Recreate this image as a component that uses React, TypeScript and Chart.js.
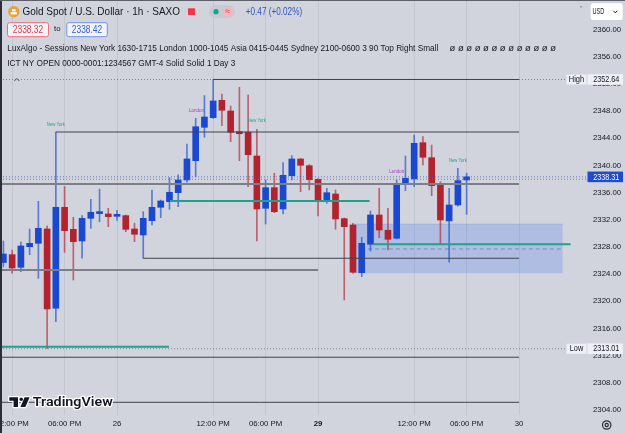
import React, { useEffect, useRef } from 'react';
import { Chart, registerables } from 'chart.js';

Chart.register(...registerables);

// ---- data (hourly candles, index = bar number) ----
const OPEN = [2325.7, 2326.86, 2325.0, 2328.03, 2328.53, 2330.64, 2318.97, 2333.83, 2330.59, 2328.87, 2332.21, 2332.9, 2332.85, 2332.5, 2332.6, 2330.64, 2329.75, 2331.86, 2333.83, 2334.66, 2335.98, 2337.85, 2340.69, 2345.6, 2347.02, 2349.58, 2348.0, 2344.96, 2344.87, 2341.38, 2333.68, 2336.72, 2333.58, 2338.48, 2340.94, 2339.95, 2337.95, 2334.66, 2335.79, 2332.16, 2331.23, 2324.21, 2328.39, 2332.7, 2330.45, 2329.27, 2337.26, 2338.0, 2343.34, 2341.13, 2337.36, 2331.82, 2334.17, 2337.85];
const HIGH = [2328.87, 2327.55, 2328.72, 2330.64, 2334.71, 2331.12, 2344.91, 2336.86, 2332.36, 2332.6, 2335.0, 2336.5, 2333.68, 2333.4, 2332.7, 2331.48, 2333.18, 2336.38, 2334.9, 2338.19, 2338.6, 2343.15, 2346.93, 2350.26, 2352.64, 2350.51, 2348.74, 2351.49, 2350.36, 2345.31, 2337.85, 2338.84, 2340.4, 2341.43, 2341.0, 2340.1, 2338.07, 2336.63, 2336.38, 2332.26, 2331.48, 2329.42, 2333.29, 2336.63, 2333.68, 2337.85, 2341.38, 2344.47, 2344.22, 2343.0, 2337.6, 2336.63, 2339.57, 2338.84];
const LOW = [2325.05, 2324.12, 2324.35, 2326.86, 2323.38, 2313.01, 2317.0, 2327.21, 2323.13, 2326.33, 2330.74, 2331.7, 2330.98, 2331.9, 2330.24, 2328.77, 2326.33, 2331.23, 2332.3, 2333.54, 2333.92, 2337.51, 2338.34, 2344.13, 2346.9, 2345.84, 2343.49, 2340.69, 2336.86, 2328.87, 2331.37, 2333.04, 2332.85, 2337.85, 2336.13, 2336.38, 2332.55, 2334.42, 2330.59, 2320.19, 2324.12, 2323.62, 2327.4, 2329.36, 2327.55, 2329.17, 2336.27, 2336.86, 2340.06, 2335.54, 2328.39, 2325.74, 2334.0, 2332.8];
const CLOSE = [2326.96, 2324.9, 2328.14, 2328.53, 2330.74, 2318.87, 2333.83, 2330.39, 2328.77, 2332.21, 2333.1, 2333.0, 2332.45, 2332.6, 2330.59, 2329.86, 2332.21, 2333.83, 2334.76, 2336.04, 2337.85, 2340.94, 2345.69, 2347.12, 2349.48, 2348.11, 2344.87, 2344.66, 2341.57, 2333.58, 2336.72, 2333.18, 2338.54, 2340.94, 2340.01, 2337.89, 2334.76, 2335.98, 2332.11, 2330.98, 2324.27, 2328.53, 2332.7, 2330.49, 2329.12, 2337.36, 2338.1, 2343.25, 2341.19, 2337.01, 2331.96, 2334.17, 2337.75, 2338.31];

const TIME_TICK_INDEX = [1, 7, 13, 24, 30, 36, 47, 53, 59];
const TIME_TICK_LABELS = ['12:00 PM', '06:00 PM', '26', '12:00 PM', '06:00 PM', '29', '12:00 PM', '06:00 PM', '30'];
const PRICE_TICKS = [2304, 2308, 2312, 2316, 2320, 2324, 2328, 2332, 2336, 2340, 2344, 2348, 2352, 2356, 2360];

const X_MIN = -0.39;
const X_MAX = 66.66;
const Y_MIN = 2303.26;
const Y_MAX = 2364.34;

// levels: [fromIndex, toIndex, price]
const DARK_LEVELS = [[24, 59, 2352.64], [6, 59, 2344.91], [16, 59, 2326.33], [X_MIN, 59, 2311.76], [X_MIN, 59, 2305.13]];
const GRAY_LEVELS = [[X_MIN, 59, 2337.26], [X_MIN, 36, 2324.6]];
const TEAL_LEVELS = [[19.06, 41.9, 2334.76], [42.3, 64.9, 2328.39], [X_MIN, 18.95, 2313.3]];
const ZONE = [39.9, 64, 2324.12, 2331.37];
const ZONE_MID = [41.7, 64, 2327.7];
const HIGH_PRICE = 2352.64;
const LOW_PRICE = 2313.01;
const LAST_PRICE = 2338.31;
const BID_PRICE = 2337.96;
const MARKER_END = 64.5;

const SESSION_NAMES = ['New York', 'London', 'New York', 'London', 'New York'];
const SESSION_INDEX = [6, 22.1, 29, 45, 52];
const SESSION_PRICE = [2346.05, 2348.11, 2346.53, 2339.07, 2340.75];

const BG = '#d1d4dc';
const TXT = '#131722';
const UP = '#1a49d0';
const DOWN = '#b3232f';
const UP_WICK = 'rgba(26,73,208,0.65)';
const DOWN_WICK = 'rgba(179,35,47,0.65)';
const TEAL = '#22a08e';
const PURPLE = '#a13fb8';
const NARROW = "'Liberation Sans Narrow', 'Liberation Sans', sans-serif";

function fitText(ctx: CanvasRenderingContext2D, text: string, x: number, y: number, font: string, color: string, width?: number, align: CanvasTextAlign = 'left') {
  ctx.save();
  ctx.font = font;
  ctx.fillStyle = color;
  ctx.textBaseline = 'middle';
  ctx.textAlign = 'left';
  const w = ctx.measureText(text).width;
  const sx = width ? width / w : 1;
  const realW = w * sx;
  let left = x;
  if (align === 'center') left = x - realW / 2;
  if (align === 'right') left = x - realW;
  ctx.translate(left, y);
  ctx.scale(sx, 1);
  ctx.fillText(text, 0, 0);
  ctx.restore();
}

function roundRect(ctx: CanvasRenderingContext2D, x: number, y: number, w: number, h: number, r: number) {
  ctx.beginPath();
  ctx.moveTo(x + r, y);
  ctx.lineTo(x + w - r, y);
  ctx.arcTo(x + w, y, x + w, y + r, r);
  ctx.lineTo(x + w, y + h - r);
  ctx.arcTo(x + w, y + h, x + w - r, y + h, r);
  ctx.lineTo(x + r, y + h);
  ctx.arcTo(x, y + h, x, y + h - r, r);
  ctx.lineTo(x, y + r);
  ctx.arcTo(x, y, x + r, y, r);
  ctx.closePath();
}

const sessionPlugin = {
  id: 'sessionLabels',
  afterDatasetsDraw(chart: any) {
    const ctx = chart.ctx as CanvasRenderingContext2D;
    const xs = chart.scales.x;
    const ys = chart.scales.y;
    SESSION_NAMES.forEach((name, k) => {
      const x = xs.getPixelForValue(SESSION_INDEX[k]);
      const y = ys.getPixelForValue(SESSION_PRICE[k]);
      const color = name === 'London' ? PURPLE : TEAL;
      fitText(ctx, name, x, y, '4.5px ' + NARROW, color, name === 'London' ? 15 : 18, 'center');
    });
  },
};

const overlayPlugin = {
  id: 'overlay',
  afterDraw(chart: any) {
    const ctx = chart.ctx as CanvasRenderingContext2D;
    const ys = chart.scales.y;
    ctx.save();
    // frame
    ctx.fillStyle = '#2a2e39';
    ctx.fillRect(0, 0, 2, 433);
    ctx.fillStyle = '#5d606b';
    ctx.fillRect(0, 0, 625, 1);

    // header: symbol icon
    ctx.fillStyle = '#e9a23b';
    ctx.beginPath();
    ctx.arc(13.8, 11.7, 5.7, 0, Math.PI * 2);
    ctx.fill();
    ctx.fillStyle = '#ffffff';
    ctx.fillRect(10.6, 12.2, 6.4, 2.2);
    ctx.fillRect(12, 9.2, 3.6, 2.2);
    fitText(ctx, 'Gold Spot / U.S. Dollar · 1h · SAXO', 22.5, 12, '11.5px ' + NARROW, TXT, 157.5);
    ctx.fillStyle = '#f23645';
    ctx.fillRect(188, 8.3, 7, 6.7);
    // pill
    ctx.fillStyle = '#c7cad3';
    roundRect(ctx, 209, 5, 26, 13.3, 6.6);
    ctx.fill();
    ctx.fillStyle = '#14a38c';
    ctx.beginPath();
    ctx.arc(216, 11.7, 2.6, 0, Math.PI * 2);
    ctx.fill();
    ctx.fillStyle = '#f2b8be';
    ctx.beginPath();
    ctx.arc(227.8, 11.7, 5.2, 0, Math.PI * 2);
    ctx.fill();
    fitText(ctx, '≈', 227.8, 11.5, '9px ' + NARROW, '#f23645', undefined, 'center');
    fitText(ctx, '+0.47 (+0.02%)', 245.7, 12, '10.5px ' + NARROW, '#2f56c6', 56.5);

    // bid / ask boxes
    ctx.fillStyle = '#f3f4f8';
    roundRect(ctx, 7.5, 22.7, 41, 14, 2);
    ctx.fill();
    ctx.strokeStyle = '#ef6b76';
    ctx.lineWidth = 1;
    ctx.stroke();
    fitText(ctx, '2338.32', 28, 30, '10px ' + NARROW, '#e23a49', 30.5, 'center');
    fitText(ctx, 'to', 57.3, 29.5, '7px ' + NARROW, TXT, 6.5, 'center');
    ctx.fillStyle = '#f3f4f8';
    roundRect(ctx, 66.8, 22.7, 40.5, 14, 2);
    ctx.fill();
    ctx.strokeStyle = '#6f8ff0';
    ctx.stroke();
    fitText(ctx, '2338.42', 87, 30, '10px ' + NARROW, '#2f5ee0', 30.5, 'center');

    // indicator lines
    fitText(ctx, 'LuxAlgo - Sessions New York 1630-1715 London 1000-1045 Asia 0415-0445 Sydney 2100-0600 3 90 Top Right Small', 7.3, 48, '9.5px ' + NARROW, TXT, 431);
    fitText(ctx, 'ø ø ø ø ø ø ø ø ø ø ø ø ø', 449.5, 48, '9.5px ' + NARROW, TXT, 106.5);
    fitText(ctx, 'ICT NY OPEN 0000-0001:1234567 GMT-4 Solid Solid 1 Day 3', 7.3, 63.5, '9.5px ' + NARROW, TXT, 228);

    // collapse chevron
    ctx.strokeStyle = '#50535e';
    ctx.lineWidth = 1;
    ctx.beginPath();
    ctx.moveTo(14.3, 81);
    ctx.lineTo(16.8, 78.5);
    ctx.lineTo(19.3, 81);
    ctx.stroke();

    // currency box
    ctx.fillStyle = '#ffffff';
    roundRect(ctx, 590.7, 3.3, 32, 16.7, 2);
    ctx.fill();
    fitText(ctx, 'USD', 592.5, 12, '8.5px ' + NARROW, TXT, 11.7);
    ctx.strokeStyle = TXT;
    ctx.beginPath();
    ctx.moveTo(613.3, 10.8);
    ctx.lineTo(615.3, 12.8);
    ctx.lineTo(617.3, 10.8);
    ctx.stroke();
    ctx.fillStyle = '#6a6d78';
    ctx.fillRect(580.5, 6, 1, 1.5);

    // High / Low / Last price labels
    const drawTag = (price: number, name: string | null, fill: string, color: string) => {
      const y = ys.getPixelForValue(price);
      if (name) {
        ctx.fillStyle = '#eef0f6';
        ctx.fillRect(566.5, y - 5, 20, 10);
        fitText(ctx, name, 576.5, y + 0.3, '8.5px ' + NARROW, TXT, name === 'High' ? 15.5 : 13.5, 'center');
      }
      ctx.fillStyle = fill;
      ctx.fillRect(587.5, y - 5.3, 35.5, 10.6);
      fitText(ctx, price.toFixed(2), 593.3, y + 0.3, '8.5px ' + NARROW, color, 26);
    };
    drawTag(HIGH_PRICE, 'High', '#eef0f6', TXT);
    drawTag(LOW_PRICE, 'Low', '#eef0f6', TXT);
    drawTag(LAST_PRICE, null, '#1f4bd0', '#ffffff');

    // gear
    ctx.strokeStyle = '#2a2e39';
    ctx.lineWidth = 1.2;
    ctx.beginPath();
    ctx.arc(606.7, 425, 4.2, 0, Math.PI * 2);
    ctx.stroke();
    ctx.beginPath();
    ctx.arc(606.7, 425, 1.6, 0, Math.PI * 2);
    ctx.stroke();

    // TradingView logo
    const logo = () => {
      ctx.beginPath();
      ctx.rect(9.3, 397.3, 8.7, 3.4);
      ctx.rect(13.6, 397.3, 4.4, 9.7);
      ctx.moveTo(22.9, 399.2);
      ctx.arc(21.2, 399.2, 1.8, 0, Math.PI * 2);
      ctx.moveTo(24.6, 397.3);
      ctx.lineTo(29.6, 397.3);
      ctx.lineTo(25.4, 407);
      ctx.lineTo(20.4, 407);
      ctx.closePath();
    };
    ctx.strokeStyle = '#ffffff';
    ctx.lineWidth = 2.5;
    ctx.lineJoin = 'round';
    logo();
    ctx.stroke();
    ctx.fillStyle = TXT;
    logo();
    ctx.fill();
    ctx.save();
    ctx.font = '600 13.5px Roboto, ' + NARROW;
    const tw = ctx.measureText('TradingView').width;
    ctx.translate(32.7, 402.3);
    ctx.scale(80 / tw, 1);
    ctx.textBaseline = 'middle';
    ctx.strokeStyle = '#ffffff';
    ctx.lineWidth = 2.5;
    ctx.lineJoin = 'round';
    ctx.strokeText('TradingView', 0, 0);
    ctx.fillStyle = TXT;
    ctx.fillText('TradingView', 0, 0);
    ctx.restore();

    ctx.restore();
  },
};

function levelDataset(level: number[], color: string, width: number, order: number, dash: number[] = []) {
  return {
    type: 'line' as const,
    data: [{ x: level[0], y: level[2] }, { x: level[1], y: level[2] }],
    borderColor: color,
    borderWidth: width,
    borderDash: dash,
    pointRadius: 0,
    fill: false,
    order,
  };
}

export default function App() {
  const canvasRef = useRef<HTMLCanvasElement | null>(null);

  useEffect(() => {
    if (!canvasRef.current) return;
    const idx = OPEN.map((_, i) => i);
    const isUp = (i: number) => CLOSE[i] >= OPEN[i];

    const datasets: any[] = [
      {
        type: 'line',
        data: [{ x: ZONE[0], y: ZONE[3] }, { x: ZONE[1], y: ZONE[3] }],
        borderColor: 'rgba(41,98,255,0.15)',
        borderWidth: 1,
        backgroundColor: 'rgba(41,98,255,0.2)',
        fill: { value: ZONE[2] },
        pointRadius: 0,
        order: 20,
      },
      levelDataset([ZONE_MID[0], ZONE_MID[1], ZONE_MID[2]], 'rgba(110,120,150,0.7)', 1, 19, [4, 3]),
      {
        type: 'bar',
        data: idx.map((i) => ({ x: i, y: [LOW[i], HIGH[i]] })),
        backgroundColor: idx.map((i) => (isUp(i) ? UP_WICK : DOWN_WICK)),
        barThickness: 1,
        grouped: false,
        order: 11,
      },
      {
        type: 'bar',
        data: idx.map((i) => ({ x: i, y: [OPEN[i], CLOSE[i]] })),
        backgroundColor: idx.map((i) => (isUp(i) ? UP : DOWN)),
        barThickness: 6,
        minBarLength: 2,
        grouped: false,
        order: 10,
      },
      levelDataset([X_MIN, MARKER_END, HIGH_PRICE], 'rgba(110,113,124,0.8)', 1, 6, [1, 2]),
      levelDataset([X_MIN, MARKER_END, LOW_PRICE], 'rgba(110,113,124,0.8)', 1, 6, [1, 2]),
      levelDataset([X_MIN, X_MAX, BID_PRICE], 'rgba(110,113,124,0.8)', 1, 6, [1, 2]),
      levelDataset([X_MIN, X_MAX, LAST_PRICE], 'rgba(60,90,200,0.75)', 1, 5, [1, 2]),
      ...GRAY_LEVELS.map((l) => levelDataset(l, '#7c7f88', 2, 4)),
      ...TEAL_LEVELS.map((l) => levelDataset(l, TEAL, 2, 3)),
      ...DARK_LEVELS.map((l) => levelDataset(l, '#3f424c', 1, 2)),
    ];

    const font = { family: NARROW, size: 7.8 };

    const chart = new Chart(canvasRef.current, {
      type: 'bar',
      data: { datasets },
      plugins: [sessionPlugin, overlayPlugin],
      options: {
        animation: false,
        responsive: false,
        devicePixelRatio: 1,
        layout: { padding: 0 },
        plugins: {
          legend: { display: false },
          tooltip: { enabled: false },
        },
        scales: {
          x: {
            type: 'linear',
            min: X_MIN,
            max: X_MAX,
            offset: false,
            grid: { offset: false, color: 'rgba(110,118,140,0.15)', lineWidth: 1, drawTicks: false },
            border: { display: false },
            ticks: {
              autoSkip: false,
              maxRotation: 0,
              padding: 4.5,
              color: TXT,
              font: (c: any) => ({ family: NARROW, size: 7.8, weight: c.tick && c.tick.value === 36 ? 'bold' : 'normal' }),
              callback: (v: any) => {
                const k = TIME_TICK_INDEX.indexOf(Number(v));
                return k >= 0 ? TIME_TICK_LABELS[k] : '';
              },
            },
            afterBuildTicks: (s: any) => {
              s.ticks = TIME_TICK_INDEX.map((v) => ({ value: v }));
            },
            afterFit: (s: any) => {
              s.height = 18;
              s.paddingLeft = 0;
              s.paddingRight = 0;
            },
          },
          y: {
            type: 'linear',
            position: 'right',
            min: Y_MIN,
            max: Y_MAX,
            grid: { display: false, drawTicks: false },
            border: { display: false },
            ticks: {
              padding: 7,
              color: TXT,
              font,
              callback: (v: any) => Number(v).toFixed(2),
            },
            afterBuildTicks: (s: any) => {
              s.ticks = PRICE_TICKS.map((v) => ({ value: v }));
            },
            afterFit: (s: any) => {
              s.width = 39;
              s.paddingTop = 0;
              s.paddingBottom = 0;
            },
          },
        },
      } as any,
    });
    return () => chart.destroy();
  }, []);

  return (
    <div style={{ position: 'fixed', left: 0, top: 0, width: 625, height: 433, background: BG, overflow: 'hidden' }}>
      <canvas ref={canvasRef} width={625} height={433} style={{ display: 'block', width: 625, height: 433 }} />
    </div>
  );
}
